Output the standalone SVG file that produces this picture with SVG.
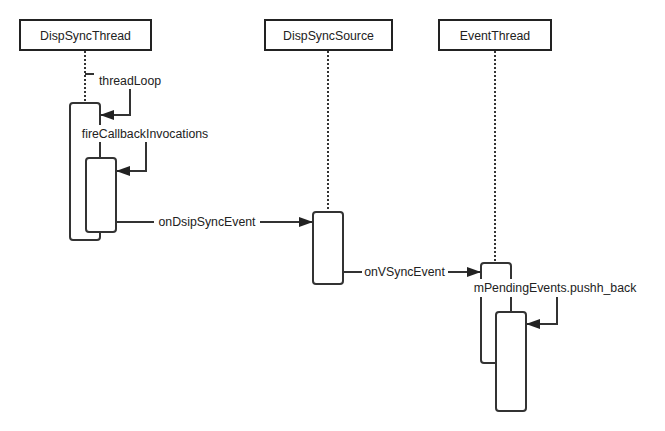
<svg xmlns="http://www.w3.org/2000/svg" width="665" height="431" viewBox="0 0 665 431">
<style>
text{font-family:"Liberation Sans",Arial,sans-serif;font-size:12.3px;fill:#222;text-anchor:middle;dominant-baseline:central}
.actor{fill:#fff;stroke:#222;stroke-width:2}
.life{stroke:#333;stroke-width:2;stroke-dasharray:2,2;fill:none}
.act{fill:#fff;stroke:#333;stroke-width:2}
.msg{stroke:#333;stroke-width:2;fill:none;marker-end:url(#ah)}
.bg{fill:#fff;stroke:none}
</style>
<defs>
<marker id="ah" markerUnits="userSpaceOnUse" markerWidth="15" markerHeight="12" refX="14" refY="5" orient="auto">
<path d="M0,0 L14,5 L0,10 Z" fill="#222"/>
</marker>
</defs>
<rect width="665" height="431" fill="#fff"/>
<g id="DispSyncThread">
<rect class="actor" x="20" y="20" width="131" height="30"/>
<text x="85.5" y="36">DispSyncThread</text>
<line class="life" x1="85" y1="51" x2="85" y2="103"/>
<rect class="act" x="70" y="103" width="30" height="137" rx="3"/>
</g>
<g id="DispSyncSource">
<rect class="actor" x="265" y="20" width="127" height="30"/>
<text x="328.5" y="36">DispSyncSource</text>
<line class="life" x1="328" y1="51" x2="328" y2="212"/>
<rect class="act" x="313" y="212" width="30" height="72" rx="3"/>
</g>
<g id="EventThread">
<rect class="actor" x="439" y="20" width="112" height="30"/>
<text x="495" y="36">EventThread</text>
<line class="life" x1="495" y1="51" x2="495" y2="263"/>
<rect class="act" x="481" y="263" width="30" height="100" rx="3"/>
</g>
<g id="connectors">
<polyline class="msg" points="85,74 130,74 130,115 100,115"/>
<rect class="bg" x="94" y="72" width="72" height="17"/>
<text x="130" y="81">threadLoop</text>
<polyline class="msg" points="100,127 146,127 146,171 116,171"/>
<rect class="bg" x="78" y="125" width="134" height="17"/>
<text x="145" y="134">fireCallbackInvocations</text>
<line class="msg" x1="116" y1="222" x2="313" y2="222"/>
<rect class="bg" x="154" y="213" width="106" height="18"/>
<text x="207" y="222">onDsipSyncEvent</text>
<line class="msg" x1="343" y1="272" x2="481" y2="272"/>
<rect class="bg" x="362" y="263" width="86" height="18"/>
<text x="404.5" y="272">onVSyncEvent</text>
<polyline class="msg" points="511,281 557,281 557,324 526,324"/>
<rect class="bg" x="469" y="279" width="173" height="18"/>
<text x="555" y="288">mPendingEvents.pushh_back</text>
</g>
<g id="DispSyncThread-inner">
<rect class="act" x="86" y="158" width="30" height="74" rx="3"/>
</g>
<g id="EventThread-inner">
<rect class="act" x="496" y="312" width="30" height="99" rx="3"/>
</g>
</svg>
